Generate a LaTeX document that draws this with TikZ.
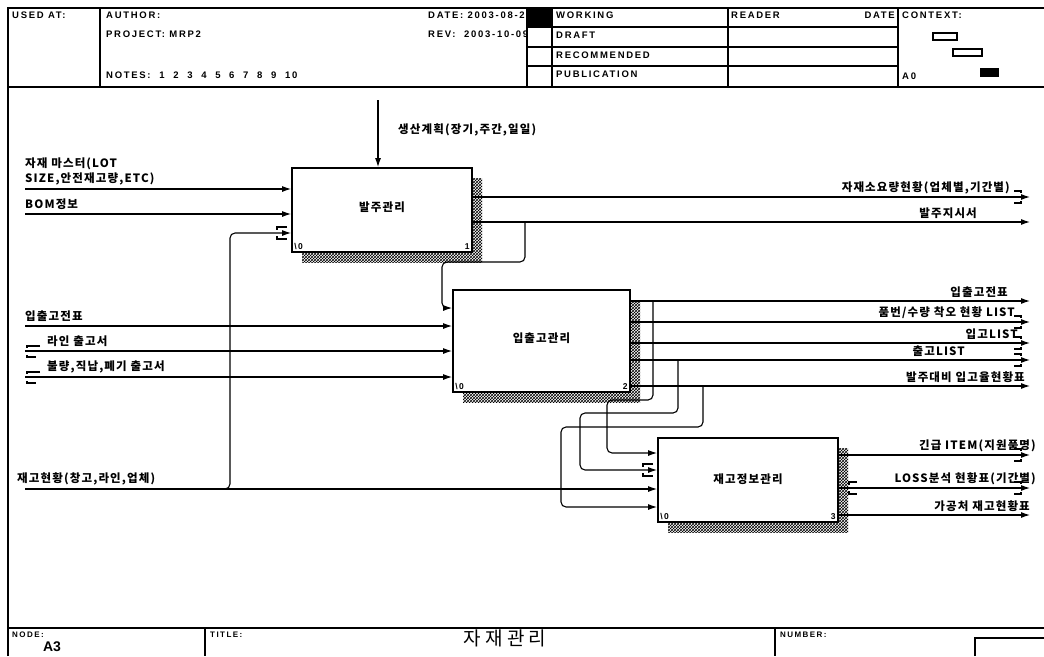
\documentclass[tikz,border=0pt]{standalone}
\usepackage{fontspec}
\setmainfont{Liberation Sans}
\newfontfamily\hdrfont[LetterSpace=18]{Liberation Sans}
\newfontfamily\krfont[LetterSpace=10]{Noto Sans CJK KR}
\newfontfamily\ttlfont[LetterSpace=22]{Noto Sans CJK KR}
\usetikzlibrary{arrows.meta,positioning,patterns,shadows}

\begin{document}
\begin{tikzpicture}[x=1pt,y=-1pt,
    frm/.style={line width=1.4pt},
    hdr/.style={anchor=north west,inner sep=0pt,font=\hdrfont\bfseries\fontsize{9.5}{10}\selectfont},
    act/.style={draw,line width=1.8pt,fill=white,font=\krfont\bfseries\fontsize{11.5}{13}\selectfont,
      general shadow={shadow xshift=10pt,shadow yshift=-10pt,pattern=crosshatch}},
    lbl/.style={inner sep=0pt,font=\krfont\bfseries\fontsize{11.5}{15}\selectfont},
    num/.style={inner sep=3pt,font=\hdrfont\bfseries\fontsize{8.5}{9}\selectfont},
    flow/.style={line width=1.1pt,-{Latex[length=9pt,width=6pt]}},
    tun/.style={line width=1.1pt}]
  \useasboundingbox (0,0) rectangle (1044,656);

  % frame, header and footer
  \draw[frm] (8,656) -- (8,8) -- (1044,8);
  \draw[frm] (8,87) -- (1044,87);
  \foreach \x in {100,527,552,728,898}
    \draw[frm] (\x,8) -- (\x,87);
  \foreach \y in {27,47,66}
    \draw[frm] (527,\y) -- (898,\y);
  \draw[frm] (8,628) -- (1044,628);
  \foreach \x in {205,775}
    \draw[frm] (\x,628) -- (\x,656);
  \draw[frm] (975,656) -- (975,638) -- (1044,638);

  \node[hdr] (usedat) at (12,12) {USED AT:};
  \node[hdr] (author) at (106,12) {AUTHOR:};
  \node[hdr] (project) at (106,31) {PROJECT:\ MRP2};
  \node[hdr] (notes) at (106,72) {NOTES:\ \ 1\ \ 2\ \ 3\ \ 4\ \ 5\ \ 6\ \ 7\ \ 8\ \ 9\ \ 10};
  \node[hdr] (date) at (428,12) {DATE: 2003-08-20};
  \node[hdr] (rev) at (428,31) {REV:\ \ 2003-10-09};
  \fill (527,8) rectangle (552,27);
  \node[hdr] (working) at (556,12) {WORKING};
  \node[hdr] (draft) at (556,32) {DRAFT};
  \node[hdr] (recom) at (556,52) {RECOMMENDED};
  \node[hdr] (publ) at (556,71) {PUBLICATION};
  \node[hdr] (reader) at (731,12) {READER};
  \node[hdr,anchor=north east] (rdate) at (895,12) {DATE};
  \node[hdr] (context) at (902,12) {CONTEXT:};
  \node[hdr] (ctxnode) at (902,73) {A0};
  \draw[line width=1.3pt] (933,33) rectangle (957,40);
  \draw[line width=1.3pt] (953,49) rectangle (982,56);
  \fill (980,68) rectangle (999,77);

  \node[hdr,font=\hdrfont\bfseries\fontsize{8}{9}\selectfont] (nodelbl) at (12,632) {NODE:};
  \node[hdr,font=\hdrfont\bfseries\fontsize{8}{9}\selectfont] (titlelbl) at (210,632) {TITLE:};
  \node[hdr,font=\hdrfont\bfseries\fontsize{8}{9}\selectfont] (numlbl) at (780,632) {NUMBER:};
  \node[anchor=north,inner sep=0pt,font=\bfseries\fontsize{14}{15}\selectfont] (nodeid) at (52,642) {A3};
  \node[anchor=north,inner sep=0pt,font=\ttlfont\fontsize{19}{21}\selectfont] (title) at (505,630) {자재관리};

  % activities
  \node[act,minimum width=180pt,minimum height=84pt] (b1) at (382,210) {\raisebox{7pt}{발주관리}};
  \node[act,minimum width=177pt,minimum height=102pt] (b2) at (541.5,341) {\raisebox{6pt}{입출고관리}};
  \node[act,minimum width=180pt,minimum height=84pt] (b3) at (748,480) {\raisebox{3pt}{재고정보관리}};
  \foreach \b/\n in {b1/1,b2/2,b3/3} {
    \node[num,anchor=south west] (\b-c) at (\b.south west) {\textbackslash0};
    \node[num,anchor=south east] (\b-n) at (\b.south east) {\n};
  }

  % control
  \coordinate (ctl) at (378,100);
  \draw[flow] (ctl) -- (b1.north -| ctl);
  \node[lbl,anchor=west] (ctl-t) at (398,130) {생산계획(장기,주간,일일)};

  % inputs
  \foreach \i/\b/\y in {i1/b1/189,i2/b1/214,i3/b2/326,i4/b2/351,i5/b2/377,i6/b3/489} {
    \coordinate (\i) at (25,\y);
    \draw[flow] (\i) -- (\b.west |- \i);
  }
  \node[lbl,anchor=south west,align=left] (i1-t) at (25,185) {자재 마스터(LOT\\SIZE,안전재고량,ETC)};
  \node[lbl,anchor=south west] (i2-t) at (25,210) {BOM정보};
  \node[lbl,anchor=south west] (i3-t) at (25,322) {입출고전표};
  \node[lbl,anchor=south west] (i4-t) at (47,347) {라인 출고서};
  \node[lbl,anchor=south west] (i5-t) at (47,373) {불량,직납,폐기 출고서};
  \node[lbl,anchor=south west] (i6-t) at (17,485) {재고현황(창고,라인,업체)};

  % outputs
  \foreach \o/\b/\y/\lx/\txt in {
      o1/b1/197/1010/{자재소요량현황(업체별,기간별)},
      o2/b1/222/977/{발주지시서},
      o3/b2/301/1008/{입출고전표},
      o4/b2/322/1015/{품번/수량 착오 현황 LIST},
      o5/b2/343/1018/{입고LIST},
      o6/b2/360/965/{출고LIST},
      o7/b2/386/1025/{발주대비 입고율현황표},
      o8/b3/455/1036/{긴급 ITEM(지원품명)},
      o9/b3/488/1036/{LOSS분석 현황표(기간별)},
      o10/b3/515/1030/{가공처 재고현황표}} {
    \coordinate (\o) at (1030,\y);
    \draw[flow] (\b.east |- \o) -- (\o);
    \node[lbl,anchor=south east] (\o-t) at (\lx,\y-3) {\txt};
  }

  % feedback
  \coordinate (j1) at (222,489);
  \coordinate (j1t) at (230,233);
  \draw[flow,rounded corners=5pt] (j1) -| (j1t) -- (b1.west |- j1t);
  \coordinate (l1) at (525,222);
  \coordinate (l1e) at (442,308);
  \draw[flow,rounded corners=5pt] (l1) -- ++(0,40) -| (l1e) -- (b2.west |- l1e);
  \coordinate (l2a) at (653,301);
  \coordinate (l2b) at (678,360);
  \coordinate (l2c) at (703,386);
  \coordinate (k1) at (607,453);
  \coordinate (k2) at (580,470);
  \coordinate (k3) at (561,507);
  \draw[flow,rounded corners=5pt] (l2a) -- ++(0,99) -| (k1) -- (b3.west |- k1);
  \draw[flow,rounded corners=5pt] (l2b) -- ++(0,53) -| (k2) -- (b3.west |- k2);
  \draw[flow,rounded corners=5pt] (l2c) -- ++(0,41) -| (k3) -- (b3.west |- k3);

  % tunnels
  \foreach \y in {197,322,343,360,455,488}
    \draw[tun] (1014,\y-6) -- (1021,\y-6) -- (1021,\y-4) (1021,\y+4) -- (1021,\y+6) -- (1014,\y+6);
  \foreach \y in {351,377}
    \draw[tun] (40,\y-5) -- (27,\y-5) -- (27,\y-3) (27,\y+4) -- (27,\y+6) -- (36,\y+6);
  \foreach \x/\y in {277/233,643/470}
    \draw[tun] (\x+10,\y-6) -- (\x,\y-6) -- (\x,\y-3) (\x,\y+3) -- (\x,\y+6) -- (\x+10,\y+6);
  \draw[tun] (857,482) -- (849,482) -- (849,485) (849,491) -- (849,494) -- (857,494);
\end{tikzpicture}
\end{document}
